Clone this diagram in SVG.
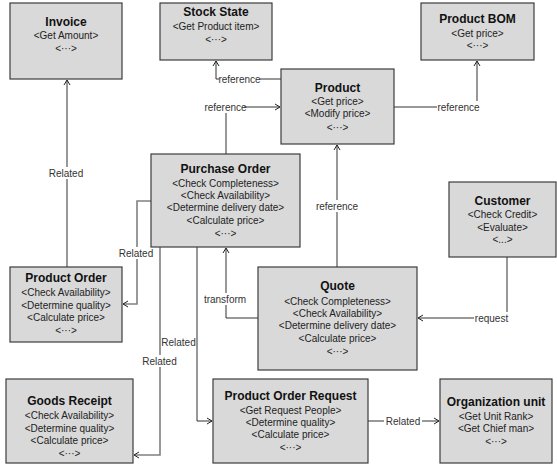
<svg xmlns="http://www.w3.org/2000/svg" width="557" height="466" viewBox="0 0 557 466">
  <defs>
    <marker id="arrow" markerWidth="8" markerHeight="8" refX="6" refY="4" orient="auto" markerUnits="userSpaceOnUse">
      <path d="M1,1 L6,4 L1,7" fill="none" stroke="#222" stroke-width="1"/>
    </marker>
    <style>
      .box { fill: #d9d9d9; stroke: #3c3c3c; stroke-width: 1.2; }
      .title { font-family: "Liberation Sans", Arial, sans-serif; font-size: 12px; font-weight: bold; fill: #111; text-anchor: middle; }
      .item { font-family: "Liberation Sans", Arial, sans-serif; font-size: 10px; fill: #222; text-anchor: middle; }
      .conn { fill: none; stroke: #333; stroke-width: 1; }
      .conn.grey { stroke: #808080; stroke-width: 1.6; }
      .lbl { font-family: "Liberation Sans", Arial, sans-serif; font-size: 10px; fill: #333; text-anchor: middle; }
      .lblbg { fill: #ffffff; }
    </style>
  </defs>
  <rect width="557" height="466" fill="#ffffff"/>

  <!-- connectors -->
  <g id="connectors">
    <path class="conn" d="M281,79 H216 V61" marker-end="url(#arrow)"/>
    <path class="conn" d="M226,154 V107 H280" marker-end="url(#arrow)"/>
    <path class="conn" d="M394,107 H477 V61" marker-end="url(#arrow)"/>
    <path class="conn" d="M337,267 V145" marker-end="url(#arrow)"/>
    <path class="conn" d="M67,267 V80" marker-end="url(#arrow)"/>
    <path class="conn grey" d="M151,201 H137 V304 H123" marker-end="url(#arrow)"/>
    <path class="conn" d="M258,318 H226 V248" marker-end="url(#arrow)"/>
    <path class="conn" d="M507,257 V318 H418" marker-end="url(#arrow)"/>
    <path class="conn grey" d="M160,247 V455 H134" marker-end="url(#arrow)"/>
    <path class="conn" d="M197,247 V421 H212" marker-end="url(#arrow)"/>
    <path class="conn" d="M368,421 H439" marker-end="url(#arrow)"/>

    <!-- connector labels -->
    <rect class="lblbg" x="219" y="73" width="41" height="12"/>
    <text class="lbl" x="239.5" y="82.5">reference</text>
    <rect class="lblbg" x="207" y="101" width="37" height="12"/>
    <text class="lbl" x="225.5" y="110.5">reference</text>
    <rect class="lblbg" x="437" y="101" width="43" height="12"/>
    <text class="lbl" x="458.5" y="110.5">reference</text>
    <rect class="lblbg" x="315" y="200" width="44" height="12"/>
    <text class="lbl" x="337" y="209.5">reference</text>
    <rect class="lblbg" x="48" y="167" width="36" height="12"/>
    <text class="lbl" x="66" y="176.5">Related</text>
    <rect class="lblbg" x="119" y="247" width="34" height="12"/>
    <text class="lbl" x="136" y="256.5">Related</text>
    <rect class="lblbg" x="203" y="293" width="44" height="12"/>
    <text class="lbl" x="225" y="302.5">transform</text>
    <rect class="lblbg" x="474" y="312" width="35" height="12"/>
    <text class="lbl" x="491.5" y="321.5">request</text>
    <rect class="lblbg" x="142" y="355" width="35" height="12"/>
    <text class="lbl" x="159.5" y="364.5">Related</text>
    <rect class="lblbg" x="161" y="336" width="35" height="12"/>
    <text class="lbl" x="178.5" y="345.5">Related</text>
    <rect class="lblbg" x="384" y="415" width="38" height="12"/>
    <text class="lbl" x="403" y="424.5">Related</text>
  </g>

  <!-- nodes -->
  <g id="invoice">
    <rect class="box" x="10" y="3" width="112" height="76"/>
    <text class="title" x="66" y="26">Invoice</text>
    <text class="item" x="66" y="38.5">&lt;Get Amount&gt;</text>
    <text class="item" x="66" y="51.5">&lt;···&gt;</text>
  </g>

  <g id="stock-state">
    <rect class="box" x="160" y="3" width="112" height="57"/>
    <text class="title" x="216" y="16">Stock State</text>
    <text class="item" x="216" y="29.5">&lt;Get Product item&gt;</text>
    <text class="item" x="216" y="42.5">&lt;···&gt;</text>
  </g>

  <g id="product-bom">
    <rect class="box" x="421" y="3" width="113" height="57"/>
    <text class="title" x="477.5" y="23">Product BOM</text>
    <text class="item" x="477.5" y="36.5">&lt;Get price&gt;</text>
    <text class="item" x="477.5" y="48.5">&lt;···&gt;</text>
  </g>

  <g id="product">
    <rect class="box" x="281" y="69" width="113" height="75"/>
    <text class="title" x="337.5" y="92">Product</text>
    <text class="item" x="337.5" y="104.5">&lt;Get price&gt;</text>
    <text class="item" x="337.5" y="116.5">&lt;Modify price&gt;</text>
    <text class="item" x="337.5" y="130.5">&lt;···&gt;</text>
  </g>

  <g id="purchase-order">
    <rect class="box" x="151" y="154" width="149" height="93"/>
    <text class="title" x="225.5" y="173">Purchase Order</text>
    <text class="item" x="225.5" y="186.5">&lt;Check Completeness&gt;</text>
    <text class="item" x="225.5" y="198.5">&lt;Check Availability&gt;</text>
    <text class="item" x="225.5" y="210.5">&lt;Determine delivery date&gt;</text>
    <text class="item" x="225.5" y="223.5">&lt;Calculate price&gt;</text>
    <text class="item" x="225.5" y="236.5">&lt;···&gt;</text>
  </g>

  <g id="product-order">
    <rect class="box" x="10" y="267" width="112" height="75"/>
    <text class="title" x="66" y="282">Product Order</text>
    <text class="item" x="66" y="295.5">&lt;Check Availability&gt;</text>
    <text class="item" x="66" y="308.5">&lt;Determine quality&gt;</text>
    <text class="item" x="66" y="320.5">&lt;Calculate price&gt;</text>
    <text class="item" x="66" y="333.5">&lt;···&gt;</text>
  </g>

  <g id="customer">
    <rect class="box" x="449" y="182" width="107" height="75"/>
    <text class="title" x="502.5" y="205">Customer</text>
    <text class="item" x="502.5" y="217.5">&lt;Check Credit&gt;</text>
    <text class="item" x="502.5" y="230.5">&lt;Evaluate&gt;</text>
    <text class="item" x="502.5" y="242.5">&lt;...&gt;</text>
  </g>

  <g id="quote">
    <rect class="box" x="258" y="267" width="159" height="103"/>
    <text class="title" x="337.5" y="290">Quote</text>
    <text class="item" x="337.5" y="304.5">&lt;Check Completeness&gt;</text>
    <text class="item" x="337.5" y="316.5">&lt;Check Availability&gt;</text>
    <text class="item" x="337.5" y="328.5">&lt;Determine delivery date&gt;</text>
    <text class="item" x="337.5" y="341.5">&lt;Calculate price&gt;</text>
    <text class="item" x="337.5" y="354.5">&lt;···&gt;</text>
  </g>

  <g id="goods-receipt">
    <rect class="box" x="6" y="379" width="127" height="84"/>
    <text class="title" x="69.5" y="405">Goods Receipt</text>
    <text class="item" x="69.5" y="418.5">&lt;Check Availability&gt;</text>
    <text class="item" x="69.5" y="431.5">&lt;Determine quality&gt;</text>
    <text class="item" x="69.5" y="443.5">&lt;Calculate price&gt;</text>
    <text class="item" x="69.5" y="456.5">&lt;···&gt;</text>
  </g>

  <g id="product-order-request">
    <rect class="box" x="213" y="379" width="155" height="84"/>
    <text class="title" x="290.5" y="400">Product Order Request</text>
    <text class="item" x="290.5" y="413.5">&lt;Get Request People&gt;</text>
    <text class="item" x="290.5" y="425.5">&lt;Determine quality&gt;</text>
    <text class="item" x="290.5" y="437.5">&lt;Calculate price&gt;</text>
    <text class="item" x="290.5" y="450.5">&lt;···&gt;</text>
  </g>

  <g id="organization-unit">
    <rect class="box" x="440" y="379" width="112" height="84"/>
    <text class="title" x="496" y="406">Organization unit</text>
    <text class="item" x="496" y="419.5">&lt;Get Unit Rank&gt;</text>
    <text class="item" x="496" y="431.5">&lt;Get Chief man&gt;</text>
    <text class="item" x="496" y="444.5">&lt;···&gt;</text>
  </g>
</svg>
